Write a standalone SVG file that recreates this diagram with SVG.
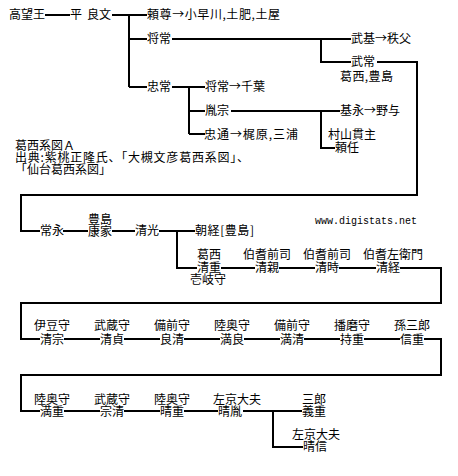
<svg xmlns="http://www.w3.org/2000/svg" width="458" height="476" viewBox="0 0 458 476">
<style>
text{font-family:"Noto Sans CJK JP","Noto Sans CJK SC",sans-serif;font-size:12px;fill:#000}
.m{text-anchor:middle}
.url{font-family:"Liberation Mono",monospace;font-size:10px}
.c path{fill:none;stroke:#000;stroke-width:2}
</style>
<rect width="458" height="476" fill="#fff"/>
<g class="c" id="connectors">
<path d="M45,15H70M112,15H147M129,15V87M129,39H147M129,87H147"/>
<path d="M172,39H351M321,39V62H351"/>
<path d="M377,62H417V195H21V231H40"/>
<path d="M172,87H205M189,87V134M189,111H205M189,134H205"/>
<path d="M231,111H340M321,111V148H335"/>
<path d="M63,231H88M112,231H135M159,231H195M177,231V268H197"/>
<path d="M221,268H255M279,268H315M339,268H376M400,268H441V303H21V339H40"/>
<path d="M64,339H100M124,339H160M184,339H220M244,339H280M304,339H340M364,339H400M424,339H441V375H21V411H40"/>
<path d="M64,411H100M124,411H160M184,411H218M243,411H302M273,411V447H303"/>
</g>
<g id="n-takamochi"><text x="9" y="19">高望王</text></g>
<g id="n-yoshifumi"><text x="70" y="19">平<tspan x="87">良文</tspan></text></g>
<g id="n-yoritaka"><text x="147" y="19" textLength="133" lengthAdjust="spacing">頼尊→小早川,土肥,土屋</text></g>
<g id="n-masatsune"><text x="147" y="43">将常</text></g>
<g id="n-tadatsune"><text x="147" y="91">忠常</text></g>
<g id="n-takemoto"><text x="351" y="43">武基→秩父</text></g>
<g id="n-taketsune"><text x="351" y="66">武常</text><text x="340" y="81" textLength="53" lengthAdjust="spacing">葛西,豊島</text></g>
<g id="n-masatsune2"><text x="205" y="91">将常→千葉</text></g>
<g id="n-tanemune"><text x="205" y="115">胤宗</text></g>
<g id="n-tadamichi"><text x="204" y="139" textLength="94" lengthAdjust="spacing">忠通→梶原,三浦</text></g>
<g id="n-motonaga"><text x="340" y="115">基永→野与</text></g>
<g id="n-yorito"><text x="328" y="139">村山貫主</text><text x="335" y="152">頼任</text></g>
<g id="note"><text x="15" y="150">葛西系図Ａ</text><text x="15" y="162" textLength="234" lengthAdjust="spacing">出典:紫桃正隆氏、「大槻文彦葛西系図」、</text><text x="15" y="174">「仙台葛西系図」</text></g>
<g id="n-tsunenaga"><text x="40" y="235">常永</text></g>
<g id="n-yasuie"><text class="m" x="100" y="224">豊島</text><text class="m" x="100" y="236">康家</text></g>
<g id="n-kiyomitsu"><text x="135" y="235">清光</text></g>
<g id="n-tomotsune"><text x="195" y="235" textLength="59" lengthAdjust="spacing">朝経[豊島]</text></g>
<g id="n-kiyoshige"><text class="m" x="209" y="259">葛西</text><text class="m" x="209" y="272">清重</text><text class="m" x="208" y="284">壱岐守</text></g>
<g id="n-kiyochika"><text class="m" x="267" y="259">伯耆前司</text><text class="m" x="267" y="272">清親</text></g>
<g id="n-kiyotoki"><text class="m" x="327" y="259">伯耆前司</text><text class="m" x="327" y="272">清時</text></g>
<g id="n-kiyotsune"><text class="m" x="393" y="259">伯耆左衛門</text><text class="m" x="388" y="272">清経</text></g>
<g id="url"><text class="url" x="315" y="224">www.digistats.net</text></g>
<g id="n-kiyomune"><text class="m" x="52" y="330">伊豆守</text><text class="m" x="52" y="344">清宗</text></g>
<g id="n-kiyosada"><text class="m" x="112" y="330">武蔵守</text><text class="m" x="112" y="344">清貞</text></g>
<g id="n-yoshikiyo"><text class="m" x="172" y="330">備前守</text><text class="m" x="172" y="344">良清</text></g>
<g id="n-mitsuyoshi"><text class="m" x="232" y="330">陸奥守</text><text class="m" x="232" y="344">満良</text></g>
<g id="n-mitsukiyo"><text class="m" x="292" y="330">備前守</text><text class="m" x="292" y="344">満清</text></g>
<g id="n-mochishige"><text class="m" x="352" y="330">播磨守</text><text class="m" x="352" y="344">持重</text></g>
<g id="n-nobushige"><text class="m" x="412" y="330">孫三郎</text><text class="m" x="412" y="344">信重</text></g>
<g id="n-mitsushige"><text class="m" x="52" y="404">陸奥守</text><text class="m" x="52" y="416">満重</text></g>
<g id="n-munekiyo"><text class="m" x="112" y="404">武蔵守</text><text class="m" x="112" y="416">宗清</text></g>
<g id="n-harushige"><text class="m" x="172" y="404">陸奥守</text><text class="m" x="172" y="416">晴重</text></g>
<g id="n-harutane"><text x="213" y="404">左京大夫</text><text x="218" y="416">晴胤</text></g>
<g id="n-yoshishige"><text x="302" y="404">三郎</text><text x="302" y="416">義重</text></g>
<g id="n-harunobu"><text x="292" y="439">左京大夫</text><text x="303" y="451">晴信</text></g>
</svg>
